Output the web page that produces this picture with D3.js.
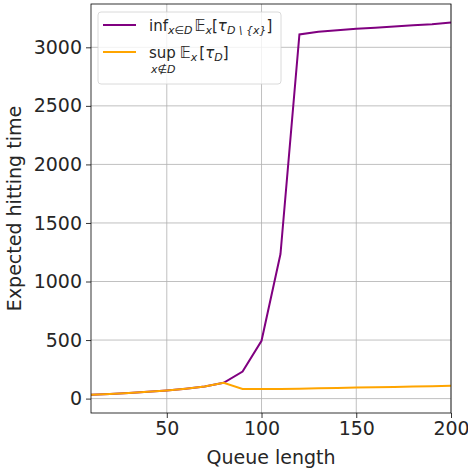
<!DOCTYPE html>
<html>
<head>
<meta charset="utf-8">
<script src="https://cdn.jsdelivr.net/npm/d3@7"></script>
<style>
  body { margin: 0; background: #fff; }
  text { font-family: "DejaVu Sans", sans-serif; fill: #262626; }
</style>
</head>
<body>
<div id="chart"></div>
<script>
// data
const queueLength = [10, 20, 30, 40, 50, 60, 70, 80, 90, 100, 110, 120, 130, 140, 150, 160, 170, 180, 190, 200];
const infHitting = [32, 40, 48, 58, 70, 85, 103, 135, 231, 494, 1235, 3110, 3132, 3146, 3158, 3168, 3178, 3188, 3198, 3212];
const supHitting = [32, 40, 48, 58, 70, 85, 103, 135, 82, 81, 83, 85, 88, 91, 94, 97, 100, 103, 106, 109];
const xTicks = [50, 100, 150, 200];
const yTicks = [0, 500, 1000, 1500, 2000, 2500, 3000];

const W = 468, H = 475;
const margin = { top: 4, right: 17, bottom: 62, left: 91 };
const width = W - margin.left - margin.right;
const height = H - margin.top - margin.bottom;

const svg = d3.select("#chart")
    .append("svg")
    .attr("width", W)
    .attr("height", H)
    .append("g")
    .attr("transform", `translate(${margin.left}, ${margin.top})`);

const xScale = d3.scaleLinear().domain([10, 200]).range([0, width]);
const yScale = d3.scaleLinear().domain([-123, 3370]).range([height, 0]);

// grid
svg.append("g")
    .selectAll("line")
    .data(xTicks)
    .join("line")
    .attr("x1", d => xScale(d)).attr("x2", d => xScale(d))
    .attr("y1", 0).attr("y2", height)
    .attr("stroke", "#b0b0b0").attr("stroke-width", 0.8);
svg.append("g")
    .selectAll("line")
    .data(yTicks)
    .join("line")
    .attr("x1", 0).attr("x2", width)
    .attr("y1", d => yScale(d)).attr("y2", d => yScale(d))
    .attr("stroke", "#b0b0b0").attr("stroke-width", 0.8);

// axes
const xAxis = svg.append("g")
    .attr("transform", `translate(0, ${height})`)
    .call(d3.axisBottom(xScale).tickValues(xTicks).tickFormat(d3.format("d")).tickSize(5).tickPadding(4));
const yAxis = svg.append("g")
    .call(d3.axisLeft(yScale).tickValues(yTicks).tickFormat(d3.format("d")).tickSize(5).tickPadding(4));
[xAxis, yAxis].forEach(a => {
    a.select(".domain").remove();
    a.selectAll("line").attr("stroke", "#000").attr("stroke-width", 0.8);
    a.selectAll("text").style("font-size", "19px").style("font-family", "DejaVu Sans").attr("fill", "#262626");
});

// lines
const line = vals => d3.line()
    .x((d, i) => xScale(queueLength[i]))
    .y(d => yScale(d))(vals);

svg.append("path")
    .attr("d", line(infHitting))
    .attr("fill", "none")
    .attr("stroke", "purple")
    .attr("stroke-width", 2);
svg.append("path")
    .attr("d", line(supHitting))
    .attr("fill", "none")
    .attr("stroke", "orange")
    .attr("stroke-width", 2);

// frame
svg.append("rect")
    .attr("width", width).attr("height", height)
    .attr("fill", "none").attr("stroke", "#000").attr("stroke-width", 0.8);

// axis labels
svg.append("text")
    .attr("x", width / 2)
    .attr("y", height + 51)
    .attr("text-anchor", "middle")
    .style("font-size", "19px")
    .text("Queue length");
svg.append("text")
    .attr("transform", `translate(${-margin.left + 21}, ${height / 2}) rotate(-90)`)
    .attr("text-anchor", "middle")
    .style("font-size", "19px")
    .text("Expected hitting time");

// legend
const legend = svg.append("g").attr("transform", "translate(7, 8)");
legend.append("rect")
    .attr("width", 183).attr("height", 72)
    .attr("rx", 3)
    .attr("fill", "#fff").attr("fill-opacity", 0.8)
    .attr("stroke", "#d0d0d0").attr("stroke-width", 0.8);

legend.append("line")
    .attr("x1", 5).attr("x2", 38).attr("y1", 13).attr("y2", 13)
    .attr("stroke", "purple").attr("stroke-width", 2);
legend.append("line")
    .attr("x1", 5).attr("x2", 38).attr("y1", 40).attr("y2", 40)
    .attr("stroke", "orange").attr("stroke-width", 2);

const t1 = legend.append("text").attr("x", 51).attr("y", 19).style("font-size", "15px");
t1.append("tspan").text("inf");
t1.append("tspan").attr("dy", 3).style("font-size", "11px").style("font-style", "italic").text("x∈D");
t1.append("tspan").attr("dy", -3).attr("dx", 2).style("font-style", "italic").text("𝔼");
t1.append("tspan").attr("dy", 3).style("font-size", "11px").style("font-style", "italic").text("x");
t1.append("tspan").attr("dy", -3).text("[");
t1.append("tspan").style("font-style", "italic").text("τ");
t1.append("tspan").attr("dy", 3).style("font-size", "11px").style("font-style", "italic").text("D \\ {x}");
t1.append("tspan").attr("dy", -3).text("]");

const t2 = legend.append("text").attr("x", 51).attr("y", 46).style("font-size", "15px");
t2.append("tspan").text("sup");
t2.append("tspan").attr("dx", 4).style("font-style", "italic").text("𝔼");
t2.append("tspan").attr("dy", 3).style("font-size", "11px").style("font-style", "italic").text("x");
t2.append("tspan").attr("dy", -3).attr("dx", 2).text("[");
t2.append("tspan").style("font-style", "italic").text("τ");
t2.append("tspan").attr("dy", 3).style("font-size", "11px").style("font-style", "italic").text("D");
t2.append("tspan").attr("dy", -3).text("]");
legend.append("text")
    .attr("x", 53).attr("y", 61)
    .style("font-size", "11px").style("font-style", "italic")
    .text("x∉D");
</script>
</body>
</html>
